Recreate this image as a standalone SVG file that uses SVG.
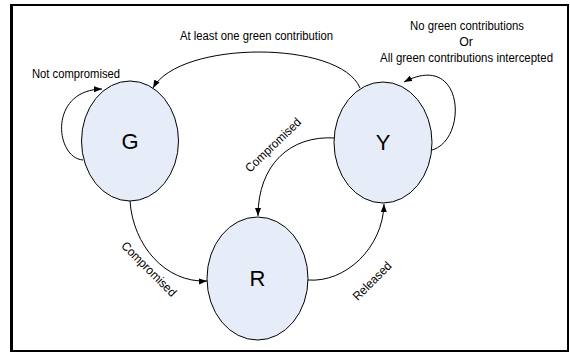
<svg xmlns="http://www.w3.org/2000/svg" width="570" height="352" viewBox="0 0 570 352">
<style>
.node{fill:#e7edf8;stroke:#000;stroke-width:1}
.nl{font-family:"Liberation Sans",Arial,sans-serif;font-size:22px;fill:#000;text-anchor:middle}
.lbl{font-family:"Liberation Sans",Arial,sans-serif;font-size:12.3px;fill:#000;text-anchor:middle}
.edge{fill:none;stroke:#000;stroke-width:1;marker-end:url(#arr)}
</style>
<defs>
<marker id="arr" markerUnits="userSpaceOnUse" markerWidth="9" markerHeight="7" refX="8" refY="3" orient="auto">
<path d="M0,0 L8,3 L0,6 z" fill="#000"/>
</marker>
</defs>
<rect x="0" y="0" width="570" height="352" fill="#fff"/>
<g id="frame">
<rect x="11" y="5" width="557" height="346" fill="none" stroke="#000" stroke-width="2"/>
<line x1="11.5" y1="4" x2="11.5" y2="352" stroke="#000" stroke-width="3"/>
</g>
<g id="connectors">
<path class="edge" d="M360,88 C340,40 180,40 153,88"/>
<path class="edge" d="M83,160 C55,158 48,90 102,89"/>
<path class="edge" d="M432,150 C468,140 465,50 404,82"/>
<path class="edge" d="M335,138 C290,135 258,165 258,216"/>
<path class="edge" d="M130,201 C133,245 165,283 207,281"/>
<path class="edge" d="M308,280 C345,283 383,248 384,204"/>
<text class="lbl" x="256.5" y="40" textLength="153" lengthAdjust="spacingAndGlyphs">At least one green contribution</text>
<text class="lbl" x="76" y="78" textLength="88" lengthAdjust="spacingAndGlyphs">Not compromised</text>
<text class="lbl" x="467" y="30" textLength="114" lengthAdjust="spacingAndGlyphs">No green contributions</text>
<text class="lbl" x="466" y="46">Or</text>
<text class="lbl" x="466.5" y="62" textLength="173" lengthAdjust="spacingAndGlyphs">All green contributions intercepted</text>
<text class="lbl" transform="translate(276,148) rotate(-44)" textLength="72" lengthAdjust="spacingAndGlyphs">Compromised</text>
<text class="lbl" transform="translate(146,272) rotate(45)" textLength="72" lengthAdjust="spacingAndGlyphs">Compromised</text>
<text class="lbl" transform="translate(375,284) rotate(-45)" textLength="49" lengthAdjust="spacingAndGlyphs">Released</text>
</g>
<g id="G">
<ellipse class="node" cx="130" cy="141" rx="48.5" ry="60"/>
<text class="nl" x="130" y="149">G</text>
</g>
<g id="R">
<ellipse class="node" cx="257.5" cy="278.5" rx="50.5" ry="61.5"/>
<text class="nl" x="257.5" y="286">R</text>
</g>
<g id="Y">
<ellipse class="node" cx="383" cy="142.5" rx="49" ry="60.5"/>
<text class="nl" x="383" y="150">Y</text>
</g>
</svg>
